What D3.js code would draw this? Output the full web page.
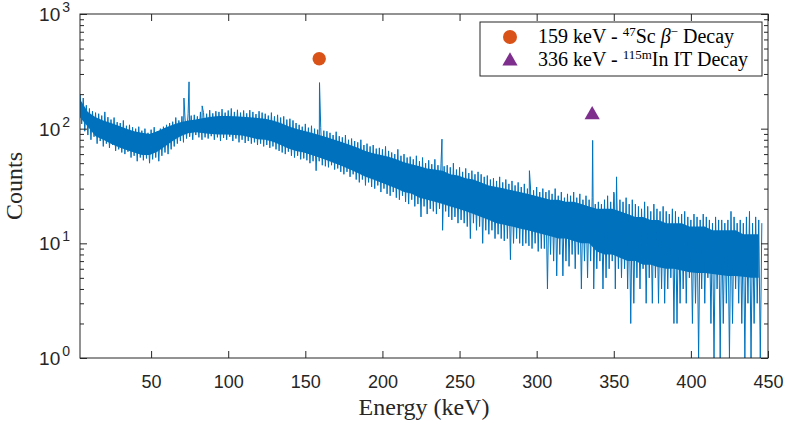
<!DOCTYPE html>
<html>
<head>
<meta charset="utf-8">
<script src="https://cdn.jsdelivr.net/npm/d3@7"></script>
<style>
  body { margin: 0; background: #fff; }
  svg { display: block; }
  .tick text { font-family: "Liberation Sans", Arial, sans-serif; fill: #262626; }
</style>
</head>
<body>
<div id="chart"></div>
<script>
// Dense core of the spectrum, read every 5 keV (upper / lower edge of the solid part)
const coreEnergy = d3.range(4, 445, 5);
const coreHigh = [180, 140, 126, 118, 112, 106, 100, 95, 92, 90,
  95, 102, 108, 114, 118, 120, 124, 127, 129, 129,
  128, 127, 126, 124, 122, 118, 112, 105, 100, 96,
  92, 88, 84, 80, 76, 72, 68, 64, 61, 59,
  57, 54, 51, 49, 47, 45, 44, 43, 40, 39,
  37, 36, 34, 32, 31, 30, 29, 28, 27, 26,
  25, 24, 24, 23, 23, 22, 21, 20, 20, 20,
  19, 18, 17, 17, 16, 16, 15, 15, 15, 14,
  14, 14, 13, 13, 13, 13, 12, 12, 12];
const coreLow = [125, 104, 86, 80, 74, 69, 65, 62, 59, 59,
  63, 70, 78, 86, 91, 93, 91, 90, 89, 89,
  88, 87, 84, 81, 80, 77, 72, 67, 64, 62,
  59, 56, 53, 50, 47, 44, 41, 38, 36, 34,
  32, 30, 28, 27, 25, 24, 23, 22, 21, 20,
  19, 18, 17, 16, 15, 14.5, 14, 13.5, 13, 12.5,
  12, 11.5, 11, 11, 10.5, 10, 10, 8.5, 8, 8,
  7.5, 7, 7, 6.5, 6.5, 6.2, 6, 6, 5.8, 5.6,
  5.5, 5.5, 5.4, 5.3, 5.2, 5.2, 5.1, 5, 5];

// Channel maxima reached by the noise, every even keV from 4 to 446
const upperEnergy = d3.range(4, 447, 2);
const upperCounts = [
  200, 185, 160, 150, 142, 138, 135, 130, 140, 126,
  120, 125, 114, 112, 118, 106, 108, 103, 100, 104,
  96, 100, 92, 98, 103, 95, 100, 104, 108, 112,
  115, 125, 118, 128, 124, 135, 130, 132, 128, 140,
  138, 135, 145, 136, 142, 140, 148, 138, 144, 150,
  140, 146, 138, 144, 136, 145, 140, 134, 142, 138,
  135, 130, 138, 128, 132, 125, 128, 120, 122, 118,
  112, 108, 104, 110, 102, 106, 100, 98, 102, 96,
  95, 92, 88, 94, 86, 84, 88, 80, 82, 78,
  76, 80, 72, 74, 70, 72, 67, 68, 66, 70,
  64, 62, 60, 66, 58, 60, 56, 57, 54, 58,
  52, 56, 50, 53, 49, 54, 48, 50, 47, 48,
  46, 50, 44, 46, 42, 45, 41, 43, 40, 42,
  40, 38, 39, 36, 37, 35, 38, 34, 36, 33,
  35, 32, 34, 31, 33, 30, 31, 29, 31, 28,
  30, 28, 29, 27, 30, 26, 28, 25, 27, 26,
  28, 25, 27, 24, 26, 24, 25, 22, 23, 22,
  24, 26, 23, 28, 25, 24, 23, 25, 22, 24,
  22, 21, 20, 23, 21, 19, 22, 20, 19, 21,
  19, 18, 20, 19, 17, 18, 19, 17, 16, 18,
  17, 16, 18, 17, 16, 15, 17, 16, 16, 15,
  16, 19, 17, 15, 16, 15, 17, 19, 15, 17,
  16, 15];

// Channel minima reached by the noise, every odd keV from 5 to 445
const lowerEnergy = d3.range(5, 446, 2);
const lowerCounts = [
  110, 95, 88, 80, 85, 74, 78, 70, 74, 68,
  72, 64, 66, 62, 60, 63, 56, 58, 52, 56,
  53, 55, 50, 54, 56, 52, 58, 62, 60, 66,
  70, 74, 78, 76, 82, 85, 80, 88, 84, 80,
  84, 82, 86, 80, 84, 78, 83, 80, 85, 78,
  82, 76, 80, 75, 78, 74, 76, 72, 74, 70,
  72, 68, 70, 66, 64, 62, 60, 63, 58, 56,
  58, 54, 55, 53, 50, 52, 43, 52, 48, 47,
  46, 48, 44, 45, 42, 40, 42, 38, 40, 36,
  34, 36, 32, 34, 31, 30, 32, 28, 30, 27,
  26, 28, 25, 24, 26, 23, 22, 24, 21, 22,
  17, 21, 18, 20, 19, 18, 20, 13, 19, 17,
  16, 17, 15, 16, 15, 14, 11, 15, 13, 14,
  10, 13, 12, 13, 11, 12, 11, 10.5, 11, 7.2,
  10, 11, 10, 9.5, 10, 9.5, 9, 10, 8.5, 9,
  9, 4, 8, 7, 5.2, 8, 5.2, 7, 6.3, 8,
  6, 8, 4, 7, 5, 7, 4, 6, 7, 4,
  5, 6, 7, 4, 6, 5, 6, 4, 2, 3,
  5, 4, 6, 3, 5, 3, 5, 3, 4, 3,
  4, 5, 2, 2, 3, 4, 3, 5, 2, 3,
  1, 4, 3, 5, 2, 1, 4, 1, 2, 3,
  1, 2, 4, 3, 2, 1, 3, 1, 2, 3,
  1];

// Photopeak channels [energy keV, counts]
const peaks = [[71.3, 185], [74.6, 256], [83.1, 158], [159.2, 252], [238.6, 81],
  [295.3, 43], [336.3, 79], [350.3, 27], [351.8, 38]];

// Markers above the identified peaks
const markerCircle = [159, 407];
const markerTriangle = [336, 132];

const xTicks = [50, 100, 150, 200, 250, 300, 350, 400, 450];
const yTicks = [1, 10, 100, 1000];

const width = 791, height = 424;
const margin = { top: 14, right: 23, bottom: 66, left: 80 };
const innerW = width - margin.left - margin.right;
const innerH = height - margin.top - margin.bottom;

const blue = '#0072BD', orange = '#D95319', purple = '#7E2F8E', axisCol = '#262626';

const svg = d3.select('#chart').append('svg')
  .attr('width', width)
  .attr('height', height);

const g = svg.append('g').attr('transform', `translate(${margin.left},${margin.top})`);

const x = d3.scaleLinear().domain([3.9, 450]).range([0, innerW]);
const y = d3.scaleLog().domain([1, 1000]).range([innerH, 0]).clamp(true);

g.append('clipPath').attr('id', 'clip')
  .append('rect').attr('width', innerW).attr('height', innerH);

const plot = g.append('g').attr('clip-path', 'url(#clip)');

// solid core of the noise band
const core = coreEnergy.map((e, i) => ({ e: e, hi: coreHigh[i], lo: coreLow[i] }));
plot.append('path')
  .datum(core)
  .attr('fill', blue)
  .attr('d', d3.area().x(d => x(d.e)).y0(d => y(d.lo)).y1(d => y(d.hi)));

// spectrum trace: channel maxima, minima and peaks in energy order
const channels = upperEnergy.map((e, i) => [e, upperCounts[i]])
  .concat(lowerEnergy.map((e, i) => [e, lowerCounts[i]]))
  .concat(peaks)
  .sort((a, b) => a[0] - b[0]);

plot.append('path')
  .datum(channels)
  .attr('fill', 'none')
  .attr('stroke', blue)
  .attr('stroke-width', 1)
  .attr('stroke-linejoin', 'miter')
  .attr('d', d3.line().x(d => x(d[0])).y(d => y(d[1])));

// markers
g.append('circle')
  .attr('cx', x(markerCircle[0])).attr('cy', y(markerCircle[1]))
  .attr('r', 6.7).attr('fill', orange);
g.append('path')
  .attr('transform', `translate(${x(markerTriangle[0])},${y(markerTriangle[1])})`)
  .attr('d', d3.symbol(d3.symbolTriangle, 100)())
  .attr('fill', purple);

// axes: ticks pointing inward on all four sides
const xAxis = g.append('g').attr('transform', `translate(0,${innerH})`)
  .call(d3.axisBottom(x).tickValues(xTicks).tickSize(-7).tickPadding(17));
xAxis.selectAll('text').style('font-size', '18px');
g.append('g').call(d3.axisTop(x).tickValues(xTicks).tickSize(-7).tickFormat(''));

const minorY = [];
[1, 10, 100].forEach(dec => { for (let k = 2; k <= 9; k++) minorY.push(dec * k); });

g.append('g').call(d3.axisLeft(y).tickValues(yTicks).tickSize(-7).tickFormat(''));
g.append('g').call(d3.axisLeft(y).tickValues(minorY).tickSize(-4).tickFormat(''));
g.append('g').attr('transform', `translate(${innerW},0)`)
  .call(d3.axisRight(y).tickValues(yTicks).tickSize(-7).tickFormat(''));
g.append('g').attr('transform', `translate(${innerW},0)`)
  .call(d3.axisRight(y).tickValues(minorY).tickSize(-4).tickFormat(''));

g.selectAll('.domain').remove();
g.selectAll('.tick line').attr('stroke', axisCol);

g.append('rect')
  .attr('width', innerW).attr('height', innerH)
  .attr('fill', 'none').attr('stroke', axisCol).attr('stroke-width', 1);

// y tick labels as 10^n
const yLab = g.append('g')
  .attr('font-family', '"Liberation Sans", Arial, sans-serif')
  .attr('fill', axisCol);
yTicks.forEach(v => {
  const t = yLab.append('text')
    .attr('x', -10).attr('y', y(v) + 7)
    .attr('text-anchor', 'end')
    .style('font-size', '19px');
  t.append('tspan').text('10');
  t.append('tspan').attr('dy', -9).attr('dx', 2).style('font-size', '14px')
    .text(String(Math.round(Math.log10(v))));
});

// axis titles
const serif = '"Liberation Serif", "Times New Roman", serif';
svg.append('text')
  .attr('x', margin.left + innerW / 2).attr('y', 415)
  .attr('text-anchor', 'middle')
  .attr('font-family', serif).style('font-size', '24px').attr('fill', axisCol)
  .text('Energy (keV)');
svg.append('text')
  .attr('transform', `translate(22,${margin.top + innerH / 2}) rotate(-90)`)
  .attr('text-anchor', 'middle')
  .attr('font-family', serif).style('font-size', '24px').attr('fill', axisCol)
  .text('Counts');

// legend
const leg = svg.append('g').attr('transform', 'translate(480,22)');
leg.append('rect')
  .attr('width', 282).attr('height', 54)
  .attr('fill', '#fff').attr('stroke', axisCol).attr('stroke-width', 1);
leg.append('circle').attr('cx', 30).attr('cy', 15).attr('r', 7).attr('fill', orange);
leg.append('path')
  .attr('transform', 'translate(30,39)')
  .attr('d', d3.symbol(d3.symbolTriangle, 100)())
  .attr('fill', purple);

const l1 = leg.append('text').attr('x', 58).attr('y', 21)
  .attr('font-family', serif).style('font-size', '20px').attr('fill', '#000');
l1.append('tspan').text('159 keV - ');
l1.append('tspan').attr('dy', -7).style('font-size', '13px').text('47');
l1.append('tspan').attr('dy', 7).text('Sc ');
l1.append('tspan').style('font-style', 'italic').text('β');
l1.append('tspan').attr('dy', -7).style('font-size', '13px').text('−');
l1.append('tspan').attr('dy', 7).text(' Decay');

const l2 = leg.append('text').attr('x', 58).attr('y', 44)
  .attr('font-family', serif).style('font-size', '20px').attr('fill', '#000');
l2.append('tspan').text('336 keV - ');
l2.append('tspan').attr('dy', -7).style('font-size', '13px').text('115m');
l2.append('tspan').attr('dy', 7).text('In IT Decay');
</script>
</body>
</html>
